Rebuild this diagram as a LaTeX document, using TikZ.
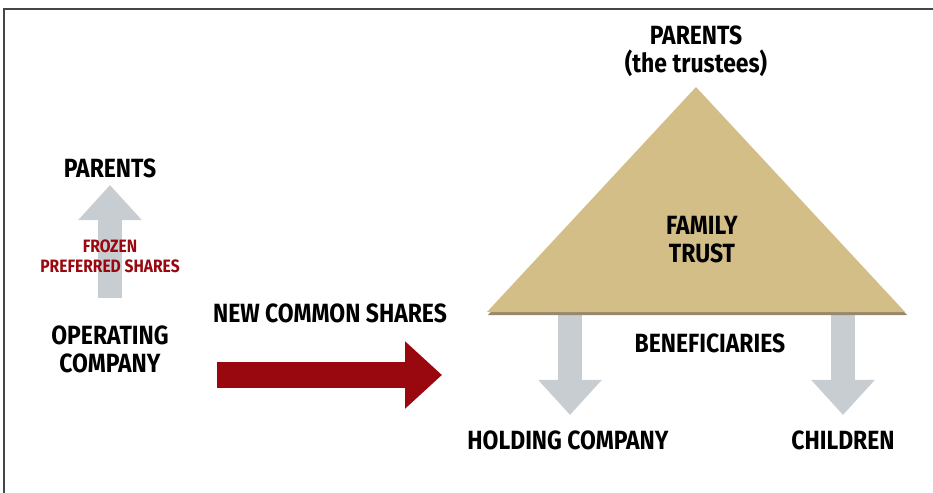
\documentclass[tikz,border=0pt]{standalone}
\usepackage{fontspec}
\setmainfont[FakeStretch=0.87]{Fira Sans}
\usetikzlibrary{arrows.meta}
\definecolor{trusttan}{RGB}{212,190,136}
\definecolor{trustshade}{RGB}{150,135,110}
\definecolor{sharered}{RGB}{152,8,14}
\definecolor{flowgray}{RGB}{200,205,209}
\definecolor{framegray}{RGB}{70,70,70}
\tikzset{
  lbl/.style={font=\bfseries\fontsize{15}{16}\selectfont, align=center, inner sep=0pt},
  smalllbl/.style={font=\bfseries\fontsize{10.2}{11.5}\selectfont, text=sharered, align=center, inner sep=0pt},
  grayflow/.style={flowgray, line width=14pt, -{Triangle[length=20pt, width=35pt]}},
  redflow/.style={sharered, line width=14.5pt, -{Triangle[length=21pt, width=37pt]}}
}
\begin{document}
\begin{tikzpicture}[x=0.02cm, y=-0.02cm]
  \useasboundingbox (0,0) rectangle (933,493);
  \draw[framegray, line width=1.6pt] (4,493) -- (4,9) -- (933,9);
  % arrow ends
  \coordinate (ub) at (110,298);
  \coordinate (ut) at (110,185);
  \coordinate (rs) at (217,375);
  \coordinate (rt) at (442,375);
  \coordinate (hs) at (570,300);
  \coordinate (ht) at (570,415);
  \coordinate (cs) at (843,300);
  \coordinate (ct) at (843,415);
  \draw[grayflow] (ub) to (ut);
  \draw[redflow] (rs) to (rt);
  \draw[grayflow] (hs) to (ht);
  \draw[grayflow] (cs) to (ct);
  % the trust
  \fill[trustshade] (488,315) -- (697,90) -- (907,315) -- cycle;
  \fill[trusttan] (487,312) -- (696,87) -- (905,312) -- cycle;
  % labels
  \node[lbl] (lpar) at (110,168) {PARENTS};
  \node[smalllbl] (froz) at (110,256) {FROZEN\\PREFERRED SHARES};
  \node[lbl] (opco) at (110,349) {OPERATING\\COMPANY};
  \node[lbl] (ncs) at (330,313) {NEW COMMON SHARES};
  \node[lbl] (tpar) at (696,51) {PARENTS\\(the trustees)};
  \node[lbl] (trust) at (702,240) {FAMILY\\TRUST};
  \node[lbl] (benef) at (710,343) {BENEFICIARIES};
  \node[lbl] (hold) at (568,440) {HOLDING COMPANY};
  \node[lbl] (kids) at (843,440) {CHILDREN};
\end{tikzpicture}
\end{document}
